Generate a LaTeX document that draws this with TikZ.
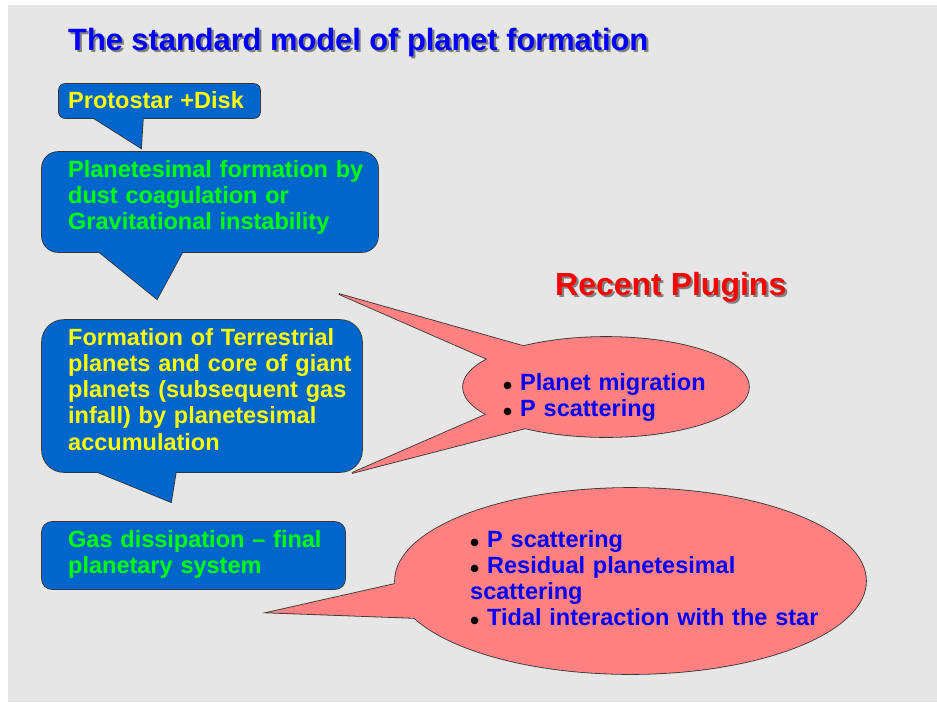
\documentclass[tikz,border=0pt]{standalone}
\usepackage{fontspec}
\setmainfont{Liberation Sans}
\definecolor{bg}{HTML}{E6E6E6}
\definecolor{boxblue}{HTML}{0066CC}
\definecolor{pinkfill}{HTML}{FF8080}
\definecolor{ttlblue}{HTML}{0000FF}
\definecolor{txtgreen}{HTML}{00FF00}
\definecolor{txtyellow}{HTML}{FFFF00}
\definecolor{txtred}{HTML}{FF0000}
\definecolor{shade}{HTML}{808080}
\newcommand\blt{\makebox[17pt][l]{\fontsize{26}{26}\selectfont\color{black}\raisebox{-4pt}{•}}}
\newcommand\shadowed[1]{\rlap{\kern2.2pt\raisebox{-2.2pt}{\color{shade}#1}}#1}
\tikzset{
  outl/.style={draw=black!80, line width=1.6pt},
  bodytxt/.style={inner sep=0pt, anchor=base west, font=\bfseries\fontsize{23.5}{26.3}\selectfont, align=left, text width=#1},
  bodytxt/.default=330pt,
  ttltxt/.style={inner sep=0pt, anchor=base west, font=\bfseries\fontsize{30.8}{32}\selectfont},
  rectxt/.style={inner sep=0pt, anchor=base west, font=\bfseries\fontsize{32}{34}\selectfont},
}
\begin{document}
\begin{tikzpicture}[x=1pt,y=-1pt]
\useasboundingbox (0,0) rectangle (937,702);
\fill[white] (0,0) rectangle (937,702);
\fill[bg] (8,5) rectangle (937,702);

% titles with shadows
\node[ttltxt, text=ttlblue] (title) at (68,50) {\shadowed{The standard model of planet formation}};
\node[rectxt, text=txtred] (recent) at (555,295.5) {\shadowed{Recent Plugins}};

% ---- blue callouts: outlines first, then fills
\draw[outl, rounded corners=6] (59,84) rectangle (260,118);
\draw[outl] (92,117) -- (141,148) -- (143,117);
\draw[outl, rounded corners=16] (42,152) rectangle (378,252);
\draw[outl] (98,251) -- (157,299) -- (183,251);
\draw[outl, rounded corners=22] (42,320) rectangle (362,472);
\draw[outl] (95,471) -- (171,502) -- (176,471);
\draw[outl, rounded corners=10] (42,522) rectangle (345,589);

\fill[boxblue, rounded corners=6] (59,84) rectangle (260,118);
\fill[boxblue] (92,117) -- (141,148) -- (143,117) -- cycle;
\fill[boxblue, rounded corners=16] (42,152) rectangle (378,252);
\fill[boxblue] (98,251) -- (157,299) -- (183,251) -- cycle;
\fill[boxblue, rounded corners=22] (42,320) rectangle (362,472);
\fill[boxblue] (95,471) -- (171,502) -- (176,471) -- cycle;
\fill[boxblue, rounded corners=10] (42,522) rectangle (345,589);

% ---- pink callouts
\draw[outl] (606,387) ellipse [x radius=143, y radius=50];
\draw[outl] (530,348) -- (339,294) -- (495,362.4);
\draw[outl] (495,410.6) -- (352,473) -- (530,427);
\draw[outl] (630.5,581) ellipse [x radius=235.5, y radius=93];
\draw[outl] (405,581.7) -- (268,612.5) -- (425,618.3);

\fill[pinkfill] (606,387) ellipse [x radius=143, y radius=50];
\fill[pinkfill] (530,348) -- (339,294) -- (495,362.4) -- cycle;
\fill[pinkfill] (495,410.6) -- (352,473) -- (530,427) -- cycle;
\fill[pinkfill] (630.5,581) ellipse [x radius=235.5, y radius=93];
\fill[pinkfill] (405,581.7) -- (268,612.5) -- (425,618.3) -- cycle;

% ---- texts
\node[bodytxt, text=txtyellow] (protostar) at (68,108) {Protostar +Disk};
\node[bodytxt, text=txtgreen] (planetesimal) at (68,177) {Planetesimal formation by\\dust coagulation or\\Gravitational instability};
\node[bodytxt, text=txtyellow] (terrestrial) at (68,345) {Formation of Terrestrial\\planets and core of giant\\planets (subsequent gas\\infall) by planetesimal\\accumulation};
\node[bodytxt, text=txtgreen] (gas) at (68,547) {Gas dissipation – final\\planetary system};

\node[bodytxt, text=ttlblue] (plugins1) at (503,390) {\blt Planet migration\\\blt P scattering};
\node[bodytxt=380pt, text=ttlblue] (plugins2) at (470,547) {\blt P scattering\\\blt Residual planetesimal\\scattering\\\blt Tidal interaction with the star};
\end{tikzpicture}
\end{document}
